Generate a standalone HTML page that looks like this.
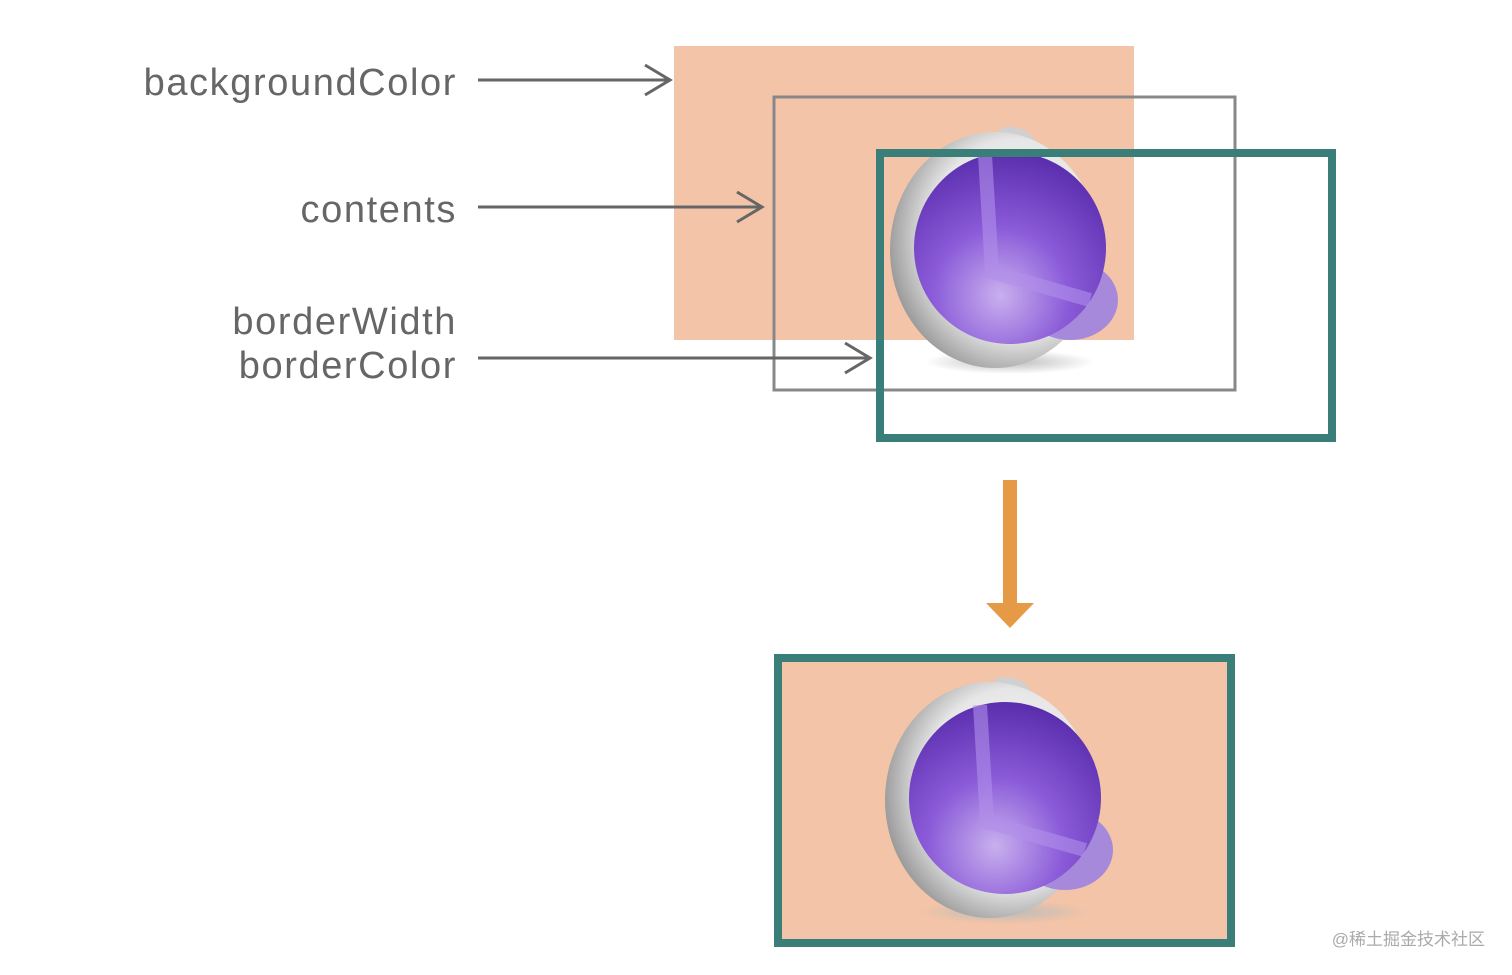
<!DOCTYPE html>
<html><head><meta charset="utf-8"><style>
html,body{margin:0;padding:0;background:#fff;}
svg{display:block}
text{font-family:"Liberation Sans",sans-serif;fill:#666;font-size:38px;letter-spacing:1.6px}
</style></head><body>
<svg width="1512" height="975" viewBox="0 0 1512 975" xmlns="http://www.w3.org/2000/svg">
<defs>
<radialGradient id="shell" cx="0.6" cy="0.45" r="0.7">
<stop offset="0" stop-color="#fff"/><stop offset="0.6" stop-color="#e6e6e6"/><stop offset="1" stop-color="#777"/>
</radialGradient>
<radialGradient id="purp" cx="0.45" cy="0.75" r="0.8">
<stop offset="0" stop-color="#c8b0ee"/><stop offset="0.45" stop-color="#8a5ad8"/><stop offset="1" stop-color="#5428a8"/>
</radialGradient>
<radialGradient id="shadow" cx="0.5" cy="0.5" r="0.5">
<stop offset="0" stop-color="#bbb"/><stop offset="1" stop-color="#bbb" stop-opacity="0"/>
</radialGradient>
<g id="sphere">
<ellipse cx="1010" cy="362" rx="85" ry="12" fill="url(#shadow)"/>
<path d="M1000 128 Q1030 122 1040 150 L1000 160 Z" fill="#d0d0d0"/>
<ellipse cx="995" cy="250" rx="105" ry="118" fill="url(#shell)"/>
<ellipse cx="1070" cy="300" rx="48" ry="40" fill="#a789dc"/>
<circle cx="1010" cy="248" r="96" fill="url(#purp)"/>
<path d="M985 155 L992 272 L1090 300" stroke="#b190ea" stroke-width="14" fill="none" opacity="0.6"/>
</g>
</defs>
<rect x="674" y="46" width="460" height="294" fill="#f3c4a7"/>
<rect x="774" y="97" width="461" height="293" fill="none" stroke="#888" stroke-width="3"/>
<use href="#sphere"/>
<rect x="880" y="153" width="452" height="285" fill="none" stroke="#3a7e7a" stroke-width="8"/>
<g stroke="#666" stroke-width="3" fill="none">
<line x1="478" y1="80" x2="670" y2="80"/><polyline points="645,65 670,80 645,95"/>
<line x1="478" y1="207" x2="762" y2="207"/><polyline points="737,192 762,207 737,222"/>
<line x1="478" y1="358" x2="870" y2="358"/><polyline points="845,343 870,358 845,373"/>
</g>
<text x="457" y="95" text-anchor="end">backgroundColor</text>
<text x="457" y="222" text-anchor="end">contents</text>
<text x="457" y="334" text-anchor="end">borderWidth</text>
<text x="457" y="378" text-anchor="end">borderColor</text>
<rect x="1003" y="480" width="14" height="125" fill="#e69a45"/>
<polygon points="986,603 1034,603 1010,628" fill="#e69a45"/>
<rect x="778" y="658" width="453" height="285" fill="#f3c4a7" stroke="#3a7e7a" stroke-width="8"/>
<use href="#sphere" transform="translate(-5,550)"/>
<text x="1485" y="945" text-anchor="end" style="font-family:'Liberation Sans','Noto Sans CJK SC',sans-serif;font-size:17px;fill:#aaa;letter-spacing:0">@稀土掘金技术社区</text>
</svg>
</body></html>
